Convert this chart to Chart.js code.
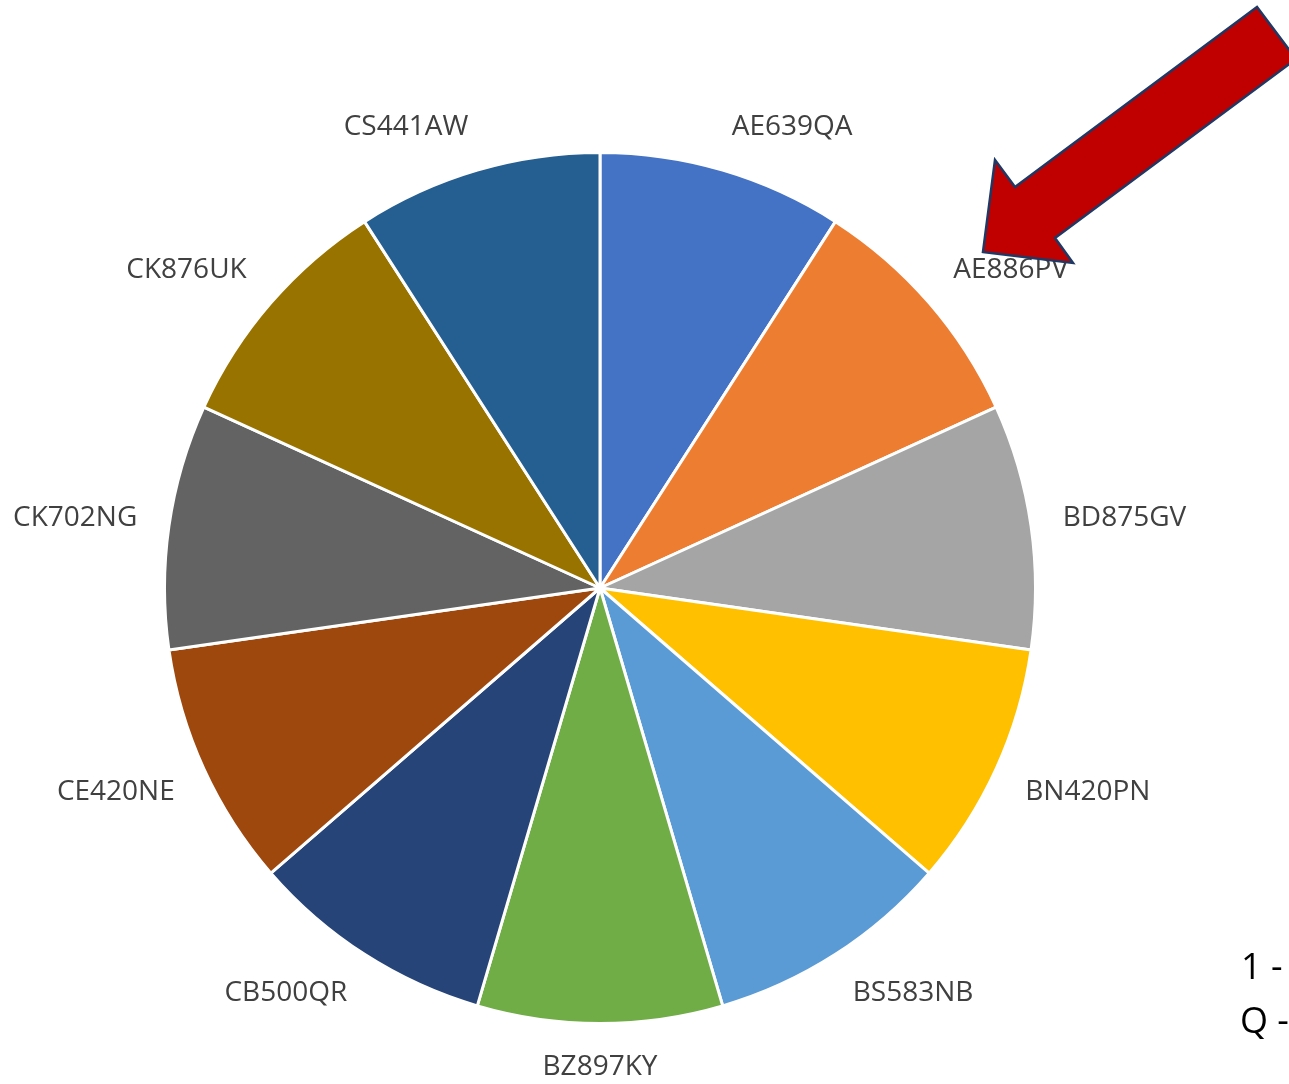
<!DOCTYPE html>
<html>
<head>
<meta charset="utf-8">
<script src="https://cdn.jsdelivr.net/npm/chart.js@4"></script>
<style>
  html, body { margin: 0; padding: 0; background: #fff; }
  #wrap { width: 1289px; height: 1084px; position: relative; }
</style>
</head>
<body>
<div id="wrap"><canvas id="pieChart"></canvas></div>
<script>
const plates = ["AE639QA", "AE886PV", "BD875GV", "BN420PN", "BS583NB", "BZ897KY",
                "CB500QR", "CE420NE", "CK702NG", "CK876UK", "CS441AW"];
const counts = [1, 1, 1, 1, 1, 1, 1, 1, 1, 1, 1];
const sliceColors = ["#4472C4", "#ED7D31", "#A5A5A5", "#FFC000", "#5B9BD5", "#70AD47",
                     "#264478", "#9E480E", "#636363", "#997300", "#255E91"];
const noteLines = ["1 -", "Q -"];

// labels outside the pie, corner of the text box sits on the slice's mid ray
const outsideLabels = {
    id: "outsideLabels",
    afterDatasetsDraw(chart) {
        const ctx = chart.ctx;
        const meta = chart.getDatasetMeta(0);
        ctx.save();
        ctx.font = "28px 'Open Sans'";
        ctx.fillStyle = "#404040";
        ctx.textAlign = "center";
        ctx.textBaseline = "middle";
        meta.data.forEach((arc, i) => {
            const mid = (arc.startAngle + arc.endAngle) / 2;
            const r = arc.outerRadius + 32;
            const px = arc.x + Math.cos(mid) * r;
            const py = arc.y + Math.sin(mid) * r;
            const halfW = ctx.measureText(plates[i]).width / 2;
            const halfH = 12;
            const c = Math.cos(mid), s = Math.sin(mid);
            const dx = Math.abs(c) < 0.1 ? halfW * c * 10 : halfW * Math.sign(c);
            const dy = halfH * Math.max(-1, Math.min(1, s * 2));
            ctx.fillText(plates[i], px + dx, py + dy);
        });
        ctx.restore();
    }
};

// red arrow and the cut-off note at the bottom right
const decorations = {
    id: "decorations",
    afterDraw(chart) {
        const ctx = chart.ctx;
        ctx.save();
        ctx.beginPath();
        ctx.moveTo(983, 252);
        ctx.lineTo(1073, 263);
        ctx.lineTo(1055, 238);
        ctx.lineTo(1296, 59);
        ctx.lineTo(1257, 7);
        ctx.lineTo(1015, 187);
        ctx.lineTo(995, 160);
        ctx.closePath();
        ctx.fillStyle = "#C00000";
        ctx.fill();
        ctx.lineWidth = 2.5;
        ctx.strokeStyle = "#1F3864";
        ctx.stroke();

        ctx.font = "36px 'Open Sans'";
        ctx.fillStyle = "#000";
        ctx.textAlign = "left";
        ctx.textBaseline = "alphabetic";
        ctx.fillText(noteLines[0], 1241, 979);
        ctx.fillText(noteLines[1], 1240, 1033);
        ctx.restore();
    }
};

new Chart(document.getElementById("pieChart").getContext("2d"), {
    type: "pie",
    data: {
        labels: plates,
        datasets: [{
            data: counts,
            backgroundColor: sliceColors,
            borderColor: "#ffffff",
            borderWidth: 3
        }]
    },
    options: {
        responsive: true,
        maintainAspectRatio: false,
        animation: false,
        layout: { padding: { left: 163, top: 151, right: 252, bottom: 59 } },
        plugins: {
            legend: { display: false },
            tooltip: { enabled: false }
        }
    },
    plugins: [outsideLabels, decorations]
});
</script>
</body>
</html>
